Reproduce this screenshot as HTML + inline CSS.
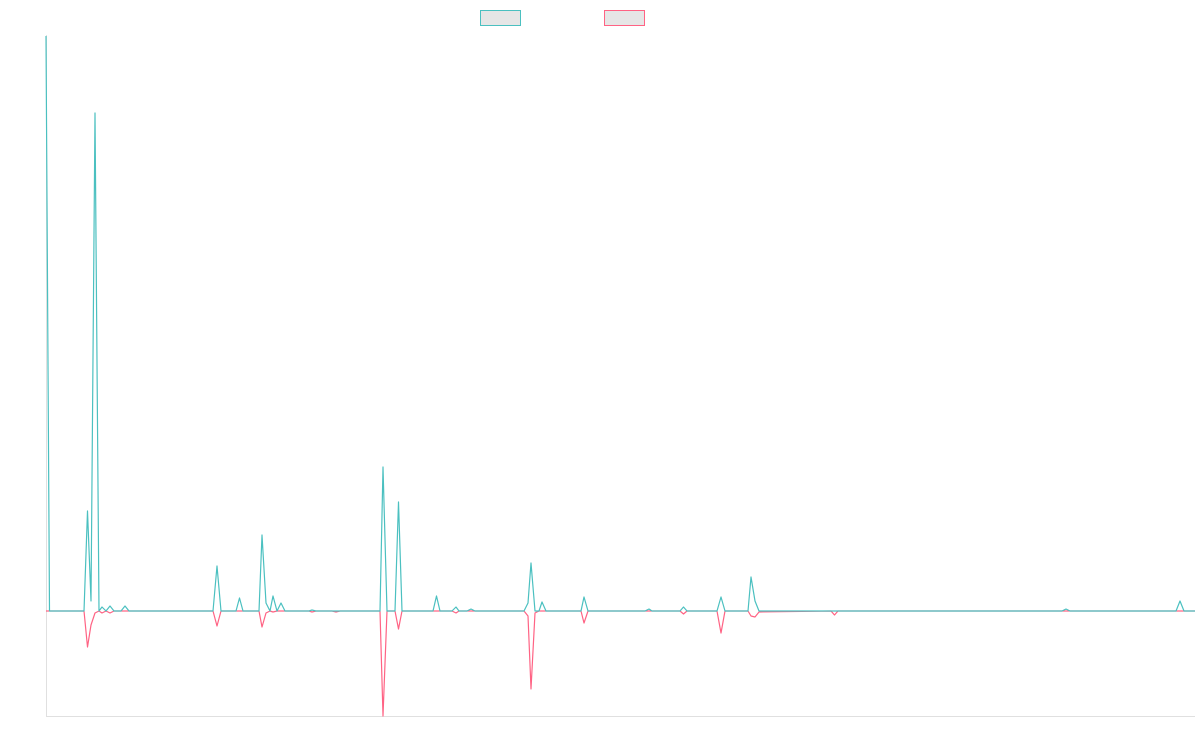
<!DOCTYPE html>
<html><head><meta charset="utf-8"><style>html,body{margin:0;padding:0;background:#fff;}svg{display:block}</style></head>
<body>
<svg width="1200" height="750" xmlns="http://www.w3.org/2000/svg">
<rect x="480.5" y="10.5" width="40" height="15" fill="#e6e6e6" stroke="#4bc0c0" stroke-width="1"/>
<rect x="604.5" y="10.5" width="40" height="15" fill="#e6e6e6" stroke="#ff6384" stroke-width="1"/>
<line x1="46.5" y1="35" x2="46.5" y2="716" stroke="#e0e0e0" stroke-width="1"/>
<line x1="46" y1="716.5" x2="1195" y2="716.5" stroke="#e0e0e0" stroke-width="1"/>
<polyline fill="none" stroke="#ff6384" stroke-width="1.2" stroke-linejoin="round" points="46,611 84,611 87.5,647 91,625 95,613 99,611 102,613 106,611 110,613 114,611 213,611 217,626 221,611 259,611 262,627 266,613 270,611 273,612 277,611 309,611 312,612 316,611 332,611 336,612 340,611 380,611 383,716 387,611 395,611 398.5,629 402,611 452,611 456,613 459,611 524,611 528,616 531,689 535,613 539,611 581,611 584,623 588,611 680,611 683.5,614 687,611 717,611 721,633 725,611 748,611 751,616 755,617 759,612 831,611 834.5,615 838,611 1195,611"/>
<polyline fill="none" stroke="#4bc0c0" stroke-width="1.2" stroke-linejoin="round" points="46,36 49.5,611 84,611 87.5,511 91,601 95,113 99,611 102,607 106,611 110,606 114,611 121,611 125,606 129,611 213,611 217,566 221,611 236,611 239.5,598 243,611 259,611 262,535 266,603 270,611 273,596 277,611 281,603 285,611 309,611 312,610 316,611 380,611 383,467 387,611 395,611 398.5,502 402,611 433,611 436.5,596 440,611 452,611 456,607 459,611 467,611 471,609 475,611 524,611 528,603 531,563 535,611 539,611 542,602 546,611 581,611 584,597 588,611 645,611 649,609 652,611 680,611 683.5,607 687,611 717,611 721,597 725,611 748,611 751,577 755,601 759,611 1062,611 1066,609 1070,611 1176,611 1180,601 1184,611 1195,611"/>
</svg>
</body></html>
